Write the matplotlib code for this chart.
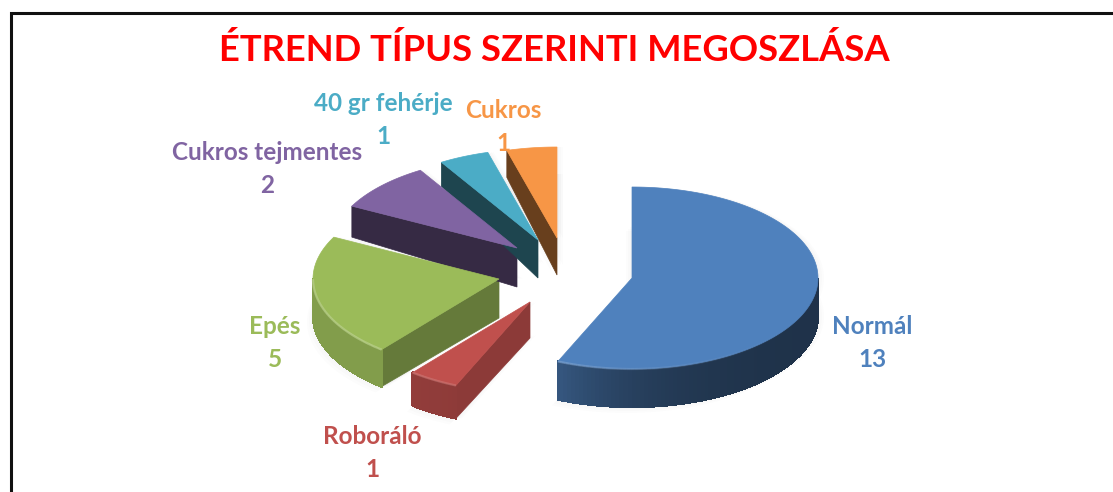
"""Exploded 3D-look pie: diet type distribution."""
import numpy as np
import matplotlib
matplotlib.use("Agg")
import matplotlib.pyplot as plt
from matplotlib.collections import LineCollection, PolyCollection

plt.rcParams["font.family"] = ["Lato", "DejaVu Sans"]

categories = ["Normál", "Roboráló", "Epés", "Cukros tejmentes", "40 gr fehérje", "Cukros"]
values = [13, 1, 5, 2, 1, 1]
colors = ["#4F81BD", "#C0504D", "#9BBB59", "#8064A2", "#4BACC6", "#F79646"]
title = "ÉTREND TÍPUS SZERINTI MEGOSZLÁSA"

# layout in pixels of the 1113x492 picture
RX, RY = 186, 91
apexes = [(632, 278), (530, 302), (499, 279), (517, 248), (538, 240), (557, 238)]
label_pos = [(872, 343), (372, 453), (275, 343), (267, 169), (383, 120), (503, 127)]
cut_shade = [0.40, 0.73, 0.65, 0.42, 0.40, 0.42]
side_shade = [(0.39, 0.68), (0.74, 0.76), (0.84, 0.84), (0.4, 0.4), (0.4, 0.4), (0.4, 0.4)]
shade_power = [4, 1, 1, 1, 1, 1]
rim_alpha = [(0.0, 0.5), (0.5, 0.6), (0.7, 0.7), (0, 0), (0, 0), (0, 0)]
depth_near = [37, 36, 39, 39, 38, 37]
depth_far = [38, 33, 37, 31, 24, 27]


def shade(color, f):
    return np.array(matplotlib.colors.to_rgb(color)) * f


def lighten(color, f):
    c = np.array(matplotlib.colors.to_rgb(color))
    return c + (1 - c) * f


fig = plt.figure(figsize=(11.13, 4.92), dpi=100)
ax = fig.add_axes([0, 0, 1, 1])
ax.set_xlim(0, 1113)
ax.set_ylim(492, 0)
ax.axis("off")

# frame, left and top only reach into the picture
ax.plot([10.5, 10.5, 1113], [492, 12.8, 12.8], color="#111111", lw=2.2,
        solid_joinstyle="miter", zorder=1)

total = sum(values)
start = 90.0
for i, val in enumerate(values):
    sweep = val / total * 360
    end = start - sweep
    cx, cy = apexes[i]
    t = np.radians(np.linspace(start, end, 160))
    xs = cx + RX * np.cos(t)
    ys = cy - RY * np.sin(t)
    px, py = np.r_[cx, xs], np.r_[cy, ys]

    # soft shadow
    for k in (2, 4, 6):
        for dx, dy in ((k, depth_far[i]), (-k, depth_far[i] + k), (k, 0)):
            ax.fill(px + dx, py + dy, color="black", alpha=0.012, lw=0, zorder=2)

    # cut face on the first edge of the slice
    cut = [(xs[0], ys[0]), (cx, cy), (cx, cy + depth_near[i]), (xs[0], ys[0] + depth_far[i])]
    ax.fill(*zip(*cut), color=shade(colors[i], cut_shade[i]), lw=0.5, zorder=3)

    # outer wall, only where it faces the viewer
    front = np.sin(t) <= 0
    if front.sum() > 1:
        fx, fy = xs[front], ys[front]
        span = np.linspace(0, 1, len(fx)) ** shade_power[i]
        lo, hi = side_shade[i]
        quads, cols = [], []
        for j in range(len(fx) - 1):
            quads.append([(fx[j], fy[j]), (fx[j + 1], fy[j + 1]),
                          (fx[j + 1], fy[j + 1] + depth_far[i]), (fx[j], fy[j] + depth_far[i])])
            cols.append(shade(colors[i], lo + (hi - lo) * span[j]))
        ax.add_collection(PolyCollection(quads, facecolors=cols, edgecolors=cols, lw=1.0,
                                         antialiaseds=False, zorder=3))

    # top face
    ax.fill(px, py, color=colors[i], lw=0.5, zorder=4)

    # bevel highlight along the front rim
    a0, a1 = rim_alpha[i]
    if a1 > 0 and front.sum() > 1:
        fx, fy = xs[front], ys[front]
        segs = [[(fx[j], fy[j]), (fx[j + 1], fy[j + 1])] for j in range(len(fx) - 1)]
        frac = np.linspace(0, 1, len(segs))
        rgba = [(*lighten(colors[i], 0.35), a0 + (a1 - a0) * f * f) for f in frac]
        ax.add_collection(LineCollection(segs, colors=rgba, lw=1.6, zorder=5))

    lx, ly = label_pos[i]
    ax.text(lx, ly, f"{categories[i]}\n{val}", color=colors[i], fontsize=17.5, fontweight="bold",
            ha="center", va="center", linespacing=1.5, zorder=6)
    start = end

ax.text(554, 50, title, color="#FF0000", fontsize=26.2, fontweight="bold",
        ha="center", va="center", zorder=6)

fig.savefig("out.png", dpi=100)
